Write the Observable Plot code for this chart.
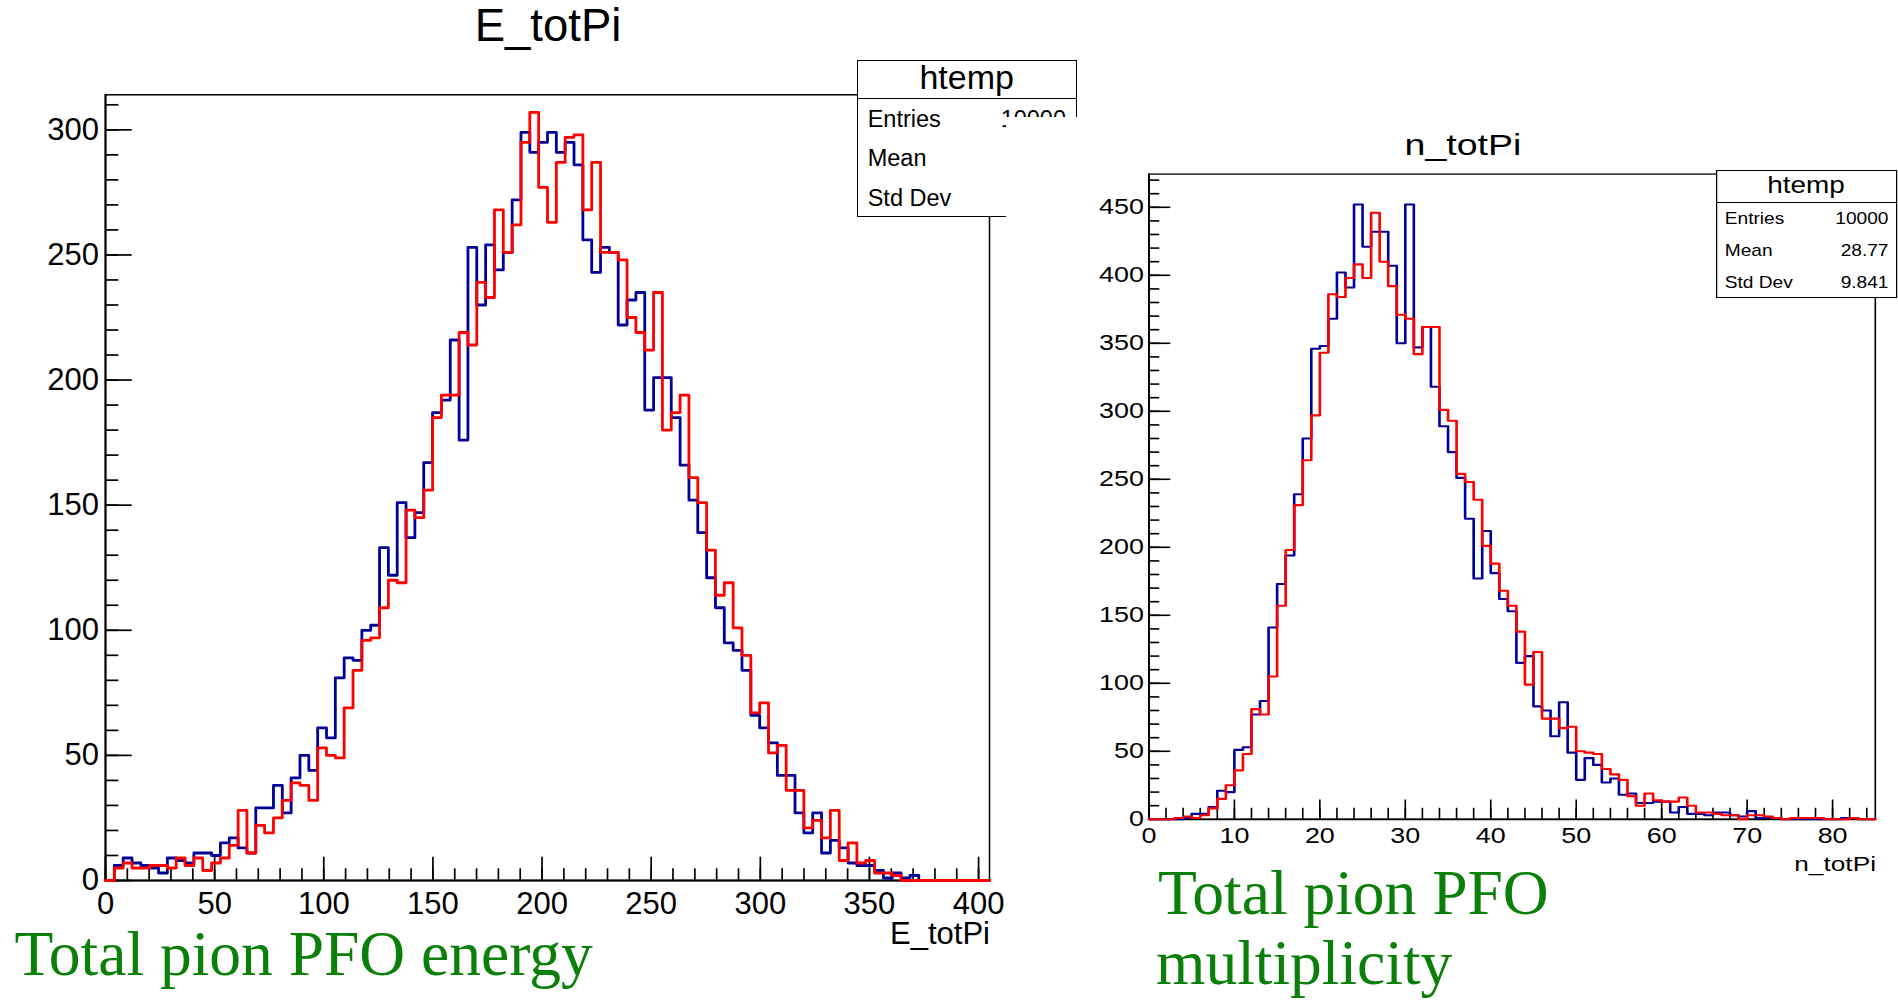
<!DOCTYPE html>
<html>
<head>
<meta charset="utf-8">
<script src="https://cdn.jsdelivr.net/npm/d3@7"></script>
<script src="https://cdn.jsdelivr.net/npm/@observablehq/plot@0.6"></script>
<style>
  html, body { margin: 0; padding: 0; background: #fff; }
  #page { position: relative; width: 1898px; height: 1001px; overflow: hidden; background: #fff; }
  .abs { position: absolute; white-space: nowrap; line-height: 1; }
  svg { display: block; }
</style>
</head>
<body>
<div id="page"></div>
<script>
// ---------------- DATA ----------------
// Left histogram: E_totPi, 100 bins over [0, 405]
const eRange = [0, 405];
const eBlue = [0, 6, 9, 7, 6, 5, 3, 9, 8, 7, 11, 11, 10, 15, 17, 13, 11, 29, 29, 38,
  27, 41, 50, 44, 61, 57, 81, 89, 88, 100, 102, 133, 122, 151, 137, 147, 167, 187, 192, 216,
  176, 253, 230, 254, 244, 251, 272, 299, 291, 295, 299, 291, 295, 286, 256, 243, 253, 251, 222, 232,
  235, 188, 201, 201, 185, 166, 152, 139, 121, 109, 95, 92, 84, 66, 61, 55, 42, 42, 27, 19,
  27, 11, 16, 13, 7, 6, 6, 4, 1, 3, 1, 2, 0, 0, 0, 0, 0, 0, 0, 0];
const eRed = [0, 5, 7, 5, 5, 6, 6, 5, 9, 6, 9, 4, 7, 9, 14, 28, 11, 22, 19, 25,
  32, 39, 38, 32, 53, 50, 49, 69, 84, 96, 97, 109, 120, 119, 148, 145, 156, 185, 194, 194,
  219, 214, 239, 233, 268, 251, 262, 295, 307, 277, 263, 287, 297, 298, 268, 287, 251, 251, 248, 225,
  219, 212, 235, 180, 187, 194, 161, 151, 132, 114, 119, 101, 90, 67, 71, 51, 54, 36, 36, 21,
  24, 17, 28, 8, 15, 7, 8, 3, 3, 2, 0, 0, 0, 0, 0, 0, 0, 0, 0, 0];
const eXMajor = [0, 50, 100, 150, 200, 250, 300, 350, 400];
const eXMinor = d3.range(0, 401, 10);
const eYMajor = [0, 50, 100, 150, 200, 250, 300];
const eYMinor = d3.range(0, 311, 10);
const eYMax = 314;

// Right histogram: n_totPi, 85 bins over [0, 85]
const nRange = [0, 85];
const nBlue = [0, 0, 0, 0, 1, 4, 4, 9, 21, 20, 51, 53, 77, 87, 141, 173, 194, 239, 280, 346,
  348, 368, 402, 391, 452, 421, 432, 432, 407, 350, 452, 347, 362, 318, 289, 270, 251, 221, 177, 212,
  181, 162, 153, 115, 120, 83, 80, 61, 86, 49, 29, 45, 40, 27, 30, 18, 19, 12, 12, 13,
  13, 5, 9, 4, 4, 3, 5, 5, 3, 2, 6, 1, 1, 1, 0, 0, 0, 0, 0, 0,
  0, 1, 1, 0, 0];
const nRed = [0, 0, 0, 1, 2, 1, 3, 8, 15, 25, 36, 48, 81, 77, 105, 157, 198, 231, 264, 297,
  343, 386, 384, 398, 408, 398, 446, 410, 392, 371, 368, 342, 362, 362, 301, 293, 254, 248, 235, 201,
  188, 168, 157, 138, 99, 123, 74, 74, 67, 68, 50, 49, 48, 37, 33, 29, 17, 10, 19, 14,
  13, 13, 16, 10, 5, 5, 4, 3, 3, 0, 3, 3, 2, 1, 0, 1, 1, 1, 1, 0,
  0, 0, 1, 0, 0];
const nXMajor = [0, 10, 20, 30, 40, 50, 60, 70, 80];
const nXMinor = d3.range(0, 85, 2);
const nYMajor = [0, 50, 100, 150, 200, 250, 300, 350, 400, 450];
const nYMinor = d3.range(0, 471, 10);
const nYMax = 474.4;

// Texts
const eTitle = "E_totPi";
const nTitle = "n_totPi";
const statsLabels = ["Entries", "Mean", "Std Dev"];
const nStatsValues = ["10000", "28.77", "9.841"];
const eNote = "Total pion PFO energy";
const nNote = ["Total pion PFO", "multiplicity"];

// ---------------- HELPERS ----------------
const BLUE = "#000099", RED = "#ff0000", GREEN = "#0a800a";
const SANS = '"Liberation Sans", Arial, Helvetica, sans-serif';
const SERIF = '"Liberation Serif", "Times New Roman", serif';

function steps(vals, range) {
  const bw = (range[1] - range[0]) / vals.length;
  const pts = vals.map((v, i) => ({x: range[0] + i * bw, y: v}));
  pts.push({x: range[1], y: vals[vals.length - 1]});
  return pts;
}

function txt(parent, text, {x, base, size, serif = false, anchor = "start", color = "#000", sx = 1}) {
  const d = document.createElement("div");
  d.className = "abs";
  d.textContent = text;
  const k = serif ? 0.8375 : 0.8465;
  d.style.fontFamily = serif ? SERIF : SANS;
  d.style.fontSize = size + "px";
  d.style.left = x + "px";
  d.style.top = (base - k * size) + "px";
  d.style.color = color;
  const tx = anchor === "middle" ? "-50%" : anchor === "end" ? "-100%" : "0";
  d.style.transformOrigin = anchor === "middle" ? "50% 0" : anchor === "end" ? "100% 0" : "0 0";
  d.style.transform = `translateX(${tx}) scaleX(${sx})`;
  parent.appendChild(d);
  return d;
}

function box(parent, {left, top, width, height, border, divider}) {
  const b = document.createElement("div");
  b.style.cssText = `position:absolute;left:${left}px;top:${top}px;width:${width}px;height:${height}px;` +
    `border:${border}px solid #000;box-sizing:border-box;background:#fff;`;
  parent.appendChild(b);
  const l = document.createElement("div");
  l.style.cssText = `position:absolute;left:${left}px;top:${divider}px;width:${width}px;height:${border}px;background:#000;`;
  parent.appendChild(l);
}

const page = document.getElementById("page");

// ---------------- LEFT PLOT ----------------
{
  const W = 1006, H = 1001, ML = 105, MR = 17, MT = 94.3, MB = 121;
  const fW = W - ML - MR, fH = H - MT - MB;
  const chart = Plot.plot({
    width: W, height: H,
    marginLeft: ML, marginRight: MR, marginTop: MT, marginBottom: MB,
    x: {domain: eRange},
    y: {domain: [0, eYMax]},
    style: {fontFamily: SANS, color: "#000", background: "transparent", overflow: "visible"},
    marks: [
      Plot.frame({stroke: "#000", strokeWidth: 1.5}),
      Plot.ruleX(eXMinor, {insetTop: fH - 11.7, stroke: "#000", strokeWidth: 1.7}),
      Plot.ruleX(eXMajor, {insetTop: fH - 23.3, stroke: "#000", strokeWidth: 1.7}),
      Plot.ruleY(eYMinor, {insetRight: fW - 13.3, stroke: "#000", strokeWidth: 1.7}),
      Plot.ruleY(eYMajor, {insetRight: fW - 26.7, stroke: "#000", strokeWidth: 1.7}),
      Plot.ruleX([eRange[0]], {stroke: "#000", strokeWidth: 2}),
      Plot.ruleY([0], {stroke: "#000", strokeWidth: 2}),
      Plot.line(steps(eBlue, eRange), {x: "x", y: "y", curve: "step-after", stroke: BLUE, strokeWidth: 2.8}),
      Plot.line(steps(eRed, eRange), {x: "x", y: "y", curve: "step-after", stroke: RED, strokeWidth: 2.8}),
      Plot.axisX({ticks: eXMajor, tickSize: 0, tickPadding: 11, fontSize: 31, label: null}),
      Plot.axisY({ticks: eYMajor, tickSize: 0, tickPadding: 6.5, fontSize: 31, label: null})
    ]
  });
  chart.style.position = "absolute";
  chart.style.left = "0px";
  chart.style.top = "0px";
  page.appendChild(chart);

  txt(page, eTitle, {x: 548, base: 42, size: 45.5, anchor: "middle"});
  txt(page, eTitle, {x: 990, base: 944, size: 31, anchor: "end"});

  // stats box (partly hidden by the right pad, as in the original)
  box(page, {left: 856.7, top: 59.7, width: 220.3, height: 157.6, border: 1.5, divider: 97.6});
  txt(page, "htemp", {x: 966.7, base: 88.3, size: 34, anchor: "middle"});
  const centers = eBlue.map((_, i) => eRange[0] + (i + 0.5) * (eRange[1] - eRange[0]) / eBlue.length);
  const tot = d3.sum(eBlue);
  const mean = d3.sum(eBlue, (v, i) => v * centers[i]) / tot;
  const sd = Math.sqrt(d3.sum(eBlue, (v, i) => v * (centers[i] - mean) ** 2) / tot);
  const eStatsValues = ["10000", mean.toPrecision(4), sd.toPrecision(4)];
  const rowBase = [127.7, 167.3, 206.7];
  statsLabels.forEach((s, i) => {
    txt(page, s, {x: 867.7, base: rowBase[i], size: 23.5});
    txt(page, eStatsValues[i], {x: 1066, base: rowBase[i], size: 23.5, anchor: "end"});
  });
}

// ---------------- RIGHT PLOT (pasted pad, stretched horizontally) ----------------
{
  const S = 1.25;
  const padLeft = 1006, padTop = 116.7;
  const W = (1898 - padLeft) / S, H = 1001 - padTop;
  const ML = (1148.3 - padLeft) / S, MR = (1898 - 1874.7) / S, MT = 173.3 - padTop, MB = 1001 - 818.5;
  const fW = W - ML - MR, fH = H - MT - MB;

  const pad = document.createElement("div");
  pad.style.cssText = `position:absolute;left:${padLeft}px;top:${padTop}px;width:${W}px;height:${H}px;` +
    `background:#fff;transform:scaleX(${S});transform-origin:0 0;overflow:hidden;`;
  page.appendChild(pad);

  const chart = Plot.plot({
    width: W, height: H,
    marginLeft: ML, marginRight: MR, marginTop: MT, marginBottom: MB,
    x: {domain: nRange},
    y: {domain: [0, nYMax]},
    style: {fontFamily: SANS, color: "#000", background: "transparent", overflow: "visible"},
    marks: [
      Plot.frame({stroke: "#000", strokeWidth: 1.3}),
      Plot.ruleX(nXMinor, {insetTop: fH - 11, stroke: "#000", strokeWidth: 1.3}),
      Plot.ruleX(nXMajor, {insetTop: fH - 19.3, stroke: "#000", strokeWidth: 1.3}),
      Plot.ruleY(nYMinor, {insetRight: fW - 8.8, stroke: "#000", strokeWidth: 1.6}),
      Plot.ruleY(nYMajor, {insetRight: fW - 17.6, stroke: "#000", strokeWidth: 1.6}),
      Plot.ruleX([nRange[0]], {stroke: "#000", strokeWidth: 1.5}),
      Plot.ruleY([0], {stroke: "#000", strokeWidth: 1.8}),
      Plot.line(steps(nBlue, nRange), {x: "x", y: "y", curve: "step-after", stroke: BLUE, strokeWidth: 2.1}),
      Plot.line(steps(nRed, nRange), {x: "x", y: "y", curve: "step-after", stroke: RED, strokeWidth: 2.1}),
      Plot.axisX({ticks: nXMajor, tickSize: 0, tickPadding: 8, fontSize: 21.5, label: null}),
      Plot.axisY({ticks: nYMajor, tickSize: 0, tickPadding: 4, fontSize: 21.5, label: null})
    ]
  });
  chart.style.position = "absolute";
  chart.style.left = "0px";
  chart.style.top = "0px";
  pad.appendChild(chart);

  txt(pad, nTitle, {x: 365.6, base: 38.8, size: 30, anchor: "middle"});
  txt(pad, nTitle, {x: 696, base: 753.8, size: 21, anchor: "end"});

  box(pad, {left: 567.8, top: 53.1, width: 144.8, height: 128.7, border: 1.3, divider: 85.2});
  txt(pad, "htemp", {x: 640.2, base: 77, size: 24, anchor: "middle", sx: 0.93});
  const rowBase = [107.5, 140, 171.8];
  statsLabels.forEach((s, i) => {
    txt(pad, s, {x: 575.2, base: rowBase[i], size: 17, sx: 0.9});
    txt(pad, nStatsValues[i], {x: 705.6, base: rowBase[i], size: 17, anchor: "end", sx: 0.9});
  });
}

// ---------------- GREEN ANNOTATIONS ----------------
txt(page, eNote, {x: 14.5, base: 975, size: 63.5, serif: true, color: GREEN});
txt(page, nNote[0], {x: 1158, base: 914, size: 63.5, serif: true, color: GREEN});
txt(page, nNote[1], {x: 1156, base: 984, size: 63.5, serif: true, color: GREEN});
</script>
</body>
</html>
